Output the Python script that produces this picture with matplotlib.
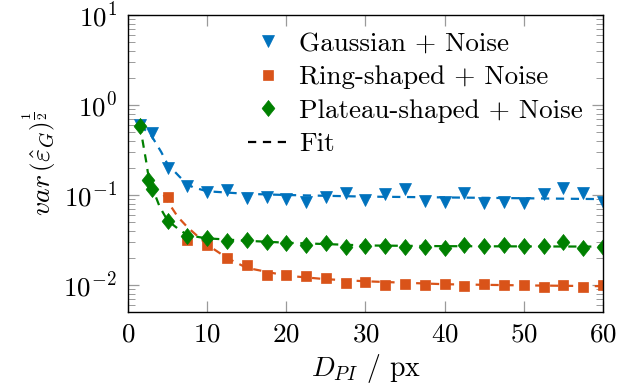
import numpy as np
import matplotlib
matplotlib.use("Agg")
import matplotlib.pyplot as plt
from matplotlib.ticker import LogLocator, NullFormatter

plt.rcParams['font.family'] = 'serif'
plt.rcParams['font.serif'] = ['cmr10', 'DejaVu Serif']
plt.rcParams['mathtext.fontset'] = 'cm'
plt.rcParams['axes.formatter.use_mathtext'] = True

# ---- data ----
gauss_x = [1.5, 3, 5, 7.5, 10, 12.5, 15, 17.5, 20, 22.5, 25, 27.5, 30, 32.5, 35, 37.5,
           40, 42.5, 45, 47.5, 50, 52.5, 55, 57.5, 60]
gauss_y = [0.60, 0.49, 0.20, 0.126, 0.109, 0.113, 0.092, 0.096, 0.090, 0.084, 0.096, 0.104,
           0.088, 0.102, 0.116, 0.086, 0.084, 0.106, 0.082, 0.084, 0.081, 0.102, 0.119,
           0.106, 0.084]

ring_x = [5, 7.5, 10, 12.5, 15, 17.5, 20, 22.5, 25, 27.5, 30, 32.5, 35, 37.5, 40, 42.5,
          45, 47.5, 50, 52.5, 55, 57.5, 60]
ring_y = [0.094, 0.032, 0.0278, 0.0198, 0.0167, 0.0129, 0.0129, 0.0126, 0.0121, 0.0106,
          0.0109, 0.0100, 0.0103, 0.0100, 0.0103, 0.0097, 0.0103, 0.0100, 0.0100, 0.0096,
          0.0101, 0.0096, 0.0100]

plat_x = [1.5, 2.5, 3, 5, 7.5, 10, 12.5, 15, 17.5, 20, 22.5, 25, 27.5, 30, 32.5, 35, 37.5,
          40, 42.5, 45, 47.5, 50, 52.5, 55, 57.5, 60]
plat_y = [0.58, 0.147, 0.116, 0.051, 0.035, 0.0336, 0.031, 0.032, 0.030, 0.0295, 0.0278,
          0.029, 0.0267, 0.027, 0.027, 0.0267, 0.0267, 0.026, 0.0278, 0.027, 0.0278, 0.027,
          0.027, 0.030, 0.0255, 0.0267]

# fitted curves
gauss_fit_x = [1.5, 3, 4.2, 5, 6.5, 7.5, 8.2, 10, 15, 20, 30, 45, 60]
gauss_fit_y = [0.60, 0.45, 0.30, 0.22, 0.16, 0.132, 0.122, 0.110, 0.103, 0.100, 0.096, 0.093, 0.090]

ring_fit_x = [4.5, 5, 6.3, 7.5, 10, 12.5, 15, 20, 25, 30, 40, 50, 60]
ring_fit_y = [0.10, 0.085, 0.057, 0.044, 0.028, 0.020, 0.0155, 0.0127, 0.0116, 0.0110, 0.0102, 0.0099, 0.0097]

plat_fit_x = [1.5, 1.9, 2.3, 2.5, 3, 4, 5, 6.5, 7.5, 9, 10, 15, 20, 30, 40, 60]
plat_fit_y = [0.60, 0.375, 0.235, 0.18, 0.125, 0.074, 0.052, 0.041, 0.036, 0.034, 0.033,
              0.031, 0.0295, 0.0275, 0.027, 0.0267]

labels = ["Gaussian + Noise", "Ring-shaped + Noise", "Plateau-shaped + Noise", "Fit"]

c_blue = "#0072BD"
c_orange = "#D95319"
c_green = "#008000"

# pgfplots-style diamond (slightly taller than wide)
diamond = [(0, 1), (0.8, 0), (0, -1), (-0.8, 0), (0, 1)]

fig = plt.figure(figsize=(6.24, 3.84), dpi=100)
ax = fig.add_axes([128 / 624, 72 / 384, 475 / 624, 297 / 384])

dash = (0, (3.7, 3.0))
ax.plot(gauss_fit_x, gauss_fit_y, linestyle=dash, color=c_blue, lw=1.6)
ax.plot(ring_fit_x, ring_fit_y, linestyle=dash, color=c_orange, lw=1.6)
ax.plot(plat_fit_x, plat_fit_y, linestyle=dash, color=c_green, lw=1.6)

h1, = ax.plot(gauss_x, gauss_y, 'v', color=c_blue, ms=9, mec=c_blue, mew=0.5, linestyle='none')
h2, = ax.plot(ring_x, ring_y, 's', color=c_orange, ms=7.2, mec=c_orange, mew=0.5, linestyle='none')
h3, = ax.plot(plat_x, plat_y, marker=diamond, color=c_green, ms=11.5, mec=c_green, mew=0.5,
              linestyle='none')
h4, = ax.plot([], [], linestyle=dash, color='black', lw=1.6)

ax.set_yscale('log')
ax.set_xlim(0, 60)
ax.set_ylim(10 ** -2.3, 10)
ax.set_xticks([0, 10, 20, 30, 40, 50, 60])
ax.yaxis.set_major_locator(LogLocator(base=10, numticks=10))
ax.yaxis.set_minor_locator(LogLocator(base=10, subs=np.arange(2, 10), numticks=20))
ax.yaxis.set_minor_formatter(NullFormatter())

ax.tick_params(which='both', direction='in', top=True, right=True, labelsize=19.5,
               color='#9a9a9a')
ax.tick_params(which='major', length=8, width=0.9)
ax.tick_params(which='minor', length=5, width=0.7)
ax.tick_params(axis='x', pad=8)
ax.tick_params(axis='y', pad=8)
for s in ax.spines.values():
    s.set_linewidth(1.0)

ax.set_xlabel(r'$D_{PI}$ / px', fontsize=20)
ax.set_ylabel(r'$var\,\left(\hat{\varepsilon}_G\right)^{\frac{1}{2}}$', fontsize=20)

leg = ax.legend([h1, h2, h3, h4], labels, loc='upper left', bbox_to_anchor=(0.2526, 0.945),
                frameon=False, fontsize=19.5, handlelength=1.45, handletextpad=0.45,
                labelspacing=0.36, borderaxespad=0, borderpad=0)

fig.savefig("out.png", dpi=100)
